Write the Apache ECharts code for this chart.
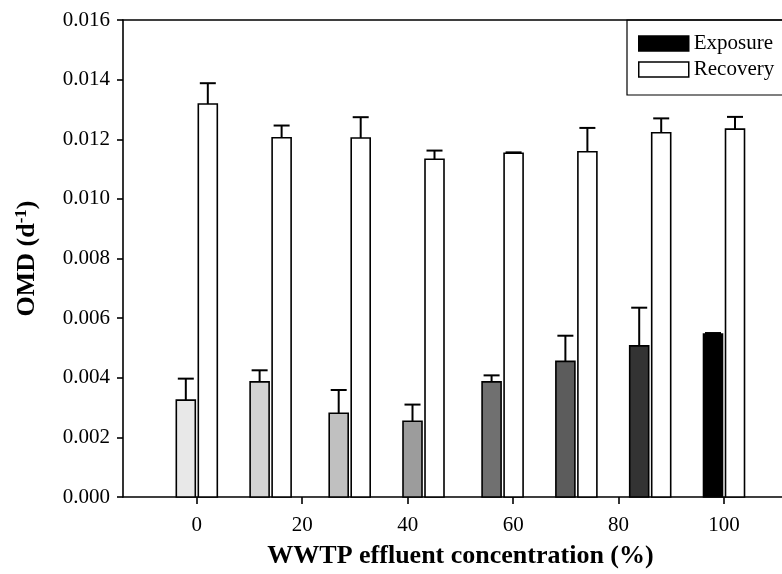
<!DOCTYPE html>
<html>
<head>
<meta charset="utf-8">
<title>OMD</title>
<script src="https://cdn.jsdelivr.net/npm/echarts@6/dist/echarts.min.js"></script>
<style>
  html, body { margin: 0; padding: 0; background: #fff; }
  #main { width: 782px; height: 574px; }
</style>
</head>
<body>
<div id="main"></div>
<script>
// WWTP effluent concentration, position of each bar group on x axis
const groups = [0, 14, 29, 43, 58, 72, 86, 100];
// OMD during exposure (mean, +SD)
const exposure = [0.00325, 0.00386, 0.00281, 0.00254, 0.00386, 0.00455, 0.00507, 0.00547];
const exposureErr = [0.00072, 0.00039, 0.00078, 0.00056, 0.00022, 0.00086, 0.00128, 0.00003];
// OMD during recovery (mean, +SD)
const recovery = [0.01318, 0.01205, 0.01204, 0.01133, 0.01153, 0.01158, 0.01222, 0.01234];
const recoveryErr = [0.00070, 0.00041, 0.00070, 0.00029, 0.00003, 0.00080, 0.00048, 0.00041];
// tick labels
const xTicks = [0, 20, 40, 60, 80, 100];

// grey levels of exposure bars
const exposureFills = ['#e8e8e8', '#d3d3d3', '#c0c0c0', '#9c9c9c', '#707070', '#5c5c5c', '#333333', '#000000'];

const font = 'Liberation Serif';
const barW = 19;
const capW = 16;

function makeRender(shift, fills) {
  return function (params, api) {
    let x = api.value(0);
    let base = api.coord([x, 0]);
    let top = api.coord([x, api.value(1)]);
    let errTop = api.coord([x, api.value(1) + api.value(2)]);
    let cx = base[0] + shift;
    let fill = fills ? fills[params.dataIndex] : '#fff';
    return {
      type: 'group',
      children: [
        {
          type: 'line',
          shape: { x1: cx, y1: top[1], x2: cx, y2: errTop[1] },
          style: { stroke: '#000', lineWidth: 2 }
        },
        {
          type: 'line',
          shape: { x1: cx - capW / 2, y1: errTop[1], x2: cx + capW / 2, y2: errTop[1] },
          style: { stroke: '#000', lineWidth: 2 }
        },
        {
          type: 'rect',
          shape: { x: cx - barW / 2, y: top[1], width: barW, height: base[1] - top[1] },
          style: { fill: fill, stroke: '#000', lineWidth: 1.6 }
        }
      ]
    };
  };
}

let myEcharts = echarts.init(document.getElementById('main'));
myEcharts.setOption({
  animation: false,
  backgroundColor: '#fff',
  textStyle: { fontFamily: font, color: '#000' },
  grid: { left: 123, right: 0, top: 20, bottom: 77 },
  legend: {
    orient: 'vertical',
    left: 638,
    top: 33,
    padding: 0,
    itemGap: 5,
    itemWidth: 50,
    itemHeight: 15,
    icon: 'rect',
    textStyle: { fontFamily: font, fontSize: 21, color: '#000' },
    data: [
      { name: 'Exposure', itemStyle: { color: '#000', borderColor: '#000', borderWidth: 1.5 } },
      { name: 'Recovery', itemStyle: { color: '#fff', borderColor: '#000', borderWidth: 1.5 } }
    ]
  },
  //legend frame
  graphic: [{
    type: 'rect',
    z: 100,
    shape: { x: 627, y: 20, width: 200, height: 75 },
    style: { fill: 'none', stroke: '#000', lineWidth: 1.2 }
  }],
  xAxis: [{
    type: 'value',
    min: -14,
    max: 111,
    name: 'WWTP effluent concentration (%)',
    nameLocation: 'middle',
    nameGap: 46,
    nameTextStyle: { fontFamily: font, fontSize: 26, fontWeight: 'bold', color: '#000', padding: [0, 0, 0, 16] },
    axisLine: { onZero: false, lineStyle: { color: '#000', width: 1.6 } },
    axisTick: { customValues: xTicks, length: 7, lineStyle: { color: '#000', width: 1.6 } },
    axisLabel: { customValues: xTicks, margin: 18, fontFamily: font, fontSize: 21, color: '#000' },
    splitLine: { show: false }
  }, {
    type: 'value',
    position: 'top',
    min: -14,
    max: 111,
    axisLine: { show: true, onZero: false, lineStyle: { color: '#000', width: 1.6 } },
    axisTick: { show: false },
    axisLabel: { show: false },
    splitLine: { show: false }
  }],
  yAxis: {
    type: 'value',
    min: 0,
    max: 0.016,
    interval: 0.002,
    name: '{a|OMD (d}{s|-1}{a|)}',
    nameLocation: 'middle',
    nameRotate: 90,
    nameGap: 82,
    nameTextStyle: {
      rich: {
        a: { fontFamily: font, fontSize: 26, fontWeight: 'bold', color: '#000', lineHeight: 28 },
        s: { fontFamily: font, fontSize: 17, fontWeight: 'bold', color: '#000', verticalAlign: 'top', lineHeight: 28 }
      }
    },
    axisLine: { show: true, onZero: false, lineStyle: { color: '#000', width: 1.6 } },
    axisTick: { show: true, length: 6, lineStyle: { color: '#000', width: 1.6 } },
    axisLabel: {
      margin: 13,
      fontFamily: font,
      fontSize: 21,
      color: '#000',
      formatter: v => v.toFixed(3)
    },
    splitLine: { show: false }
  },
  series: [{
    name: 'Exposure',
    type: 'custom',
    xAxisIndex: 0,
    itemStyle: { color: '#000', borderColor: '#000' },
    encode: { x: 0, y: 1 },
    data: groups.map((g, i) => [g, exposure[i], exposureErr[i]]),
    renderItem: makeRender(-11, exposureFills)
  }, {
    name: 'Recovery',
    type: 'custom',
    xAxisIndex: 0,
    itemStyle: { color: '#fff', borderColor: '#000' },
    encode: { x: 0, y: 1 },
    data: groups.map((g, i) => [g, recovery[i], recoveryErr[i]]),
    renderItem: makeRender(11, null)
  }]
});
</script>
</body>
</html>
